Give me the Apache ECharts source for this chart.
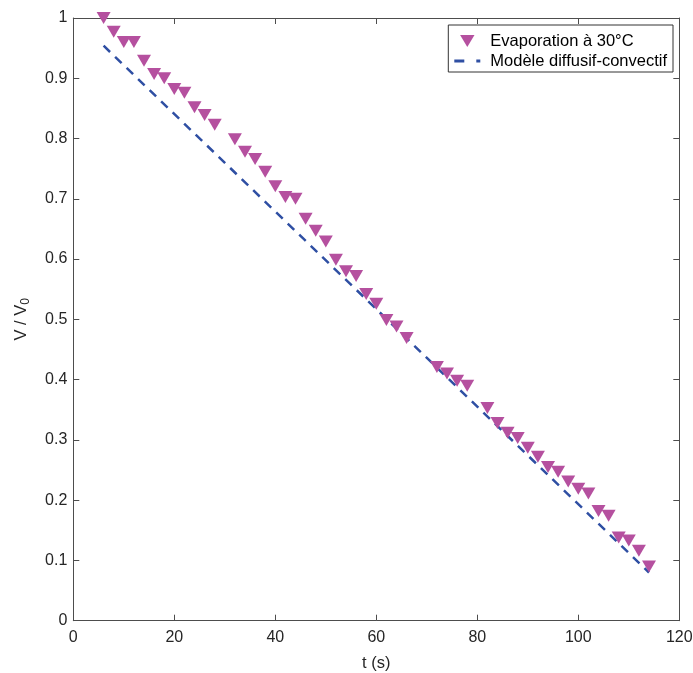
<!DOCTYPE html>
<html><head><meta charset="utf-8">
<script src="https://cdn.jsdelivr.net/npm/echarts@6/dist/echarts.min.js"></script>
<style>html,body{margin:0;padding:0;background:#fff}#c{width:693px;height:673px}</style>
</head><body><div id="c"></div>
<script>
const tData = [6,8,10,12,14,16,18,20,22,24,26,28,32,34,36,38,40,42,44,46,48,50,52,54,56,58,60,62,64,66,72,74,76,78,82,84,86,88,90,92,94,96,98,100,102,104,106,108,110,112,114];
const vData = [1.0,0.977,0.960,0.960,0.929,0.907,0.900,0.882,0.876,0.852,0.839,0.823,0.799,0.778,0.766,0.745,0.721,0.703,0.700,0.667,0.647,0.629,0.599,0.580,0.572,0.542,0.526,0.499,0.488,0.469,0.421,0.410,0.398,0.390,0.353,0.328,0.312,0.303,0.287,0.272,0.255,0.247,0.231,0.219,0.211,0.182,0.174,0.138,0.133,0.116,0.090];
const modelT = [6,114];
const modelV = [0.954,0.080];

const chart = echarts.init(document.getElementById('c'));
const font = 'Liberation Sans, Arial, sans-serif';
const axColor = '#4d4d4d';
const tri = 'path://M0,0 L12,0 L6,10 Z';
const dashIcon = 'path://M0,0 H10 V3 H0 Z M22,0 H26 V3 H22 Z';
const fmtY = v => (v === 0 ? '0' : v === 1 ? '1' : String(Math.round(v*10)/10));
const frameAxis = {
  axisLine: {show: true, onZero: false, lineStyle: {color: axColor}},
  axisTick: {show: true, inside: true, length: 6, lineStyle: {color: axColor}},
  axisLabel: {show: false}, splitLine: {show: false}
};
chart.setOption({
  animation: false,
  grid: {left: 73.3, right: 13.7, top: 18, bottom: 52.3, containLabel: false, outerBoundsMode: 'none'},
  legend: {
    right: 20, top: 25, orient: 'vertical', itemGap: 0,
    backgroundColor: '#fff', borderColor: '#333', borderWidth: 1, borderRadius: 0,
    padding: [6, 6, 1, 6], itemWidth: 26, itemHeight: 12,
    textStyle: {fontFamily: font, fontSize: 16.5, lineHeight: 20, color: '#000', padding: [0, 0, 0, 5]},
    data: [
      {name: 'Evaporation à 30°C', icon: tri, itemStyle: {color: '#b5509f'}},
      {name: 'Modèle diffusif-convectif', icon: dashIcon, itemStyle: {color: '#2f4fa3'}}
    ]
  },
  xAxis: [{
    type: 'value', min: 0, max: 120, interval: 20,
    name: 't (s)', nameLocation: 'middle', nameGap: 34,
    nameTextStyle: {fontFamily: font, fontSize: 16.5, color: '#262626'},
    axisLine: {onZero: false, lineStyle: {color: axColor}},
    axisTick: {inside: true, length: 6, lineStyle: {color: axColor}},
    axisLabel: {fontFamily: font, fontSize: 16, color: '#262626', margin: 9},
    splitLine: {show: false}
  }, Object.assign({type: 'value', min: 0, max: 120, interval: 20, position: 'top'}, frameAxis)],
  yAxis: [{
    type: 'value', min: 0, max: 1, interval: 0.1,
    name: '{a|V / V}{s|0}', nameLocation: 'middle', nameGap: 42, nameRotate: 90,
    nameTextStyle: {rich: {
      a: {fontFamily: font, fontSize: 16.5, color: '#262626'},
      s: {fontFamily: font, fontSize: 12, color: '#262626', verticalAlign: 'bottom', padding: [8, 0, 0, 0]}
    }},
    axisLine: {show: true, onZero: false, lineStyle: {color: axColor}},
    axisTick: {show: true, inside: true, length: 6, lineStyle: {color: axColor}},
    axisLabel: {fontFamily: font, fontSize: 16, color: '#262626', margin: 6, formatter: fmtY},
    splitLine: {show: false}
  }, Object.assign({type: 'value', min: 0, max: 1, interval: 0.1, position: 'right'}, frameAxis)],
  series: [{
    name: 'Evaporation à 30°C', type: 'scatter',
    symbol: tri, symbolSize: [14, 12],
    itemStyle: {color: '#b5509f', opacity: 1},
    data: tData.map((t, i) => [t, vData[i]]), z: 3
  }, {
    name: 'Modèle diffusif-convectif', type: 'line', symbol: 'none',
    lineStyle: {color: '#2f4fa3', width: 2.5, type: [9, 7]},
    itemStyle: {color: '#2f4fa3'},
    data: modelT.map((t, i) => [t, modelV[i]]), z: 2
  }]
});
</script></body></html>
